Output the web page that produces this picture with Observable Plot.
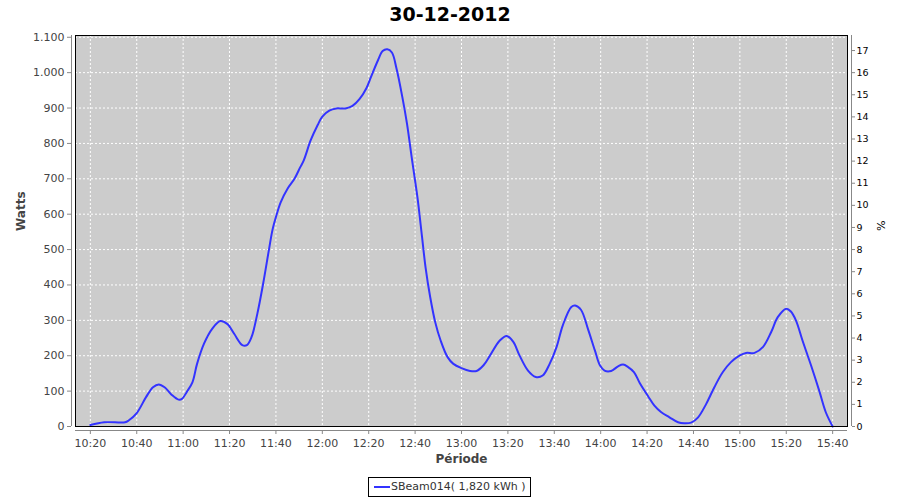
<!DOCTYPE html>
<html>
<head>
<meta charset="utf-8">
<script src="https://cdn.jsdelivr.net/npm/d3@7"></script>
<script src="https://cdn.jsdelivr.net/npm/@observablehq/plot@0.6"></script>
<style>
  body { margin: 0; background: white; }
  #wrap { position: relative; width: 900px; height: 500px; font-family: "DejaVu Sans", sans-serif; }
  #title { position: absolute; left: 0; top: 0; width: 900px; height: 28px; line-height: 28px; text-align: center; font-weight: bold; font-size: 19px; color: #000; }
  #chart { position: absolute; left: 0; top: 30px; }
  #legend { position: absolute; left: 368px; top: 477px; width: 161px; height: 18px; border: 1px solid #000; font-size: 11px; line-height: 18px; color: #333; white-space: nowrap; }
  #legend .sw { position: absolute; left: 5px; top: 8px; width: 16px; height: 2px; background: #3333ff; }
  #legend .tx { position: absolute; left: 22px; top: 0; }
</style>
</head>
<body>
<div id="wrap">
  <div id="title"></div>
  <div id="chart"></div>
  <div id="legend"><span class="sw"></span><span class="tx"></span></div>
</div>
<script>
const chartTitle = "30-12-2012";
const seriesName = "SBeam014( 1,820 kWh )";
const yLabel = "Watts";
const y2Label = "%";
const xLabel = "Période";

const times = [
  "10:20","10:26","10:35","10:36:30","10:40","10:44","10:47","10:49:30","10:52","10:55",
  "10:58","10:59:30","11:01:30","11:04","11:06","11:09","11:12:30","11:16","11:19","11:22",
  "11:25:30","11:27:30","11:29:30","11:32","11:34:30","11:37","11:38:30","11:40","11:42","11:45",
  "11:48","11:50:30","11:52","11:55","11:58","12:00","12:03","12:06","12:10","12:13",
  "12:16","12:19","12:21","12:24","12:26","12:28","12:30","12:32","12:34:30","12:36:30",
  "12:38:30","12:41","12:43","12:44:30","12:46:30","12:48:40","12:51","12:54","12:56:30","13:00",
  "13:03:40","13:06:30","13:09:30","13:12:20","13:16:30","13:19:30","13:22:20","13:25","13:28:40","13:32",
  "13:35","13:38","13:41","13:43:40","13:47:20","13:49","13:51:30","13:54:30","13:57:30","13:59:40",
  "14:01:40","14:04:30","14:07:30","14:09:40","14:11:50","14:14:20","14:16:50","14:20:30","14:23:10","14:26",
  "14:29:40","14:33:20","14:36","14:39","14:42","14:45:30","14:49","14:52:40","14:56:10","15:00",
  "15:02:40","15:06:20","15:10","15:13:30","15:16:20","15:20","15:22","15:24:10","15:27","15:30:40",
  "15:34:10","15:37","15:40"
];
const watts = [
  4,12,12,17,38,83,111,119,111,90,
  76,78,97,125,177,234,276,298,290,262,
  230,230,253,319,404,500,555,592,633,672,
  700,733,752,809,852,876,893,899,899,906,
  925,956,988,1035,1061,1066,1057,1011,931,856,
  762,648,535,450,366,295,243,196,177,165,
  157,157,173,201,243,256,239,201,158,140,
  144,177,225,286,338,342,330,276,215,173,
  158,157,170,175,168,154,123,85,59,41,
  26,12,9,11,26,64,111,154,182,201,
  208,208,225,267,309,333,325,300,243,173,
  102,41,0
];

const xTickLabels = ["10:20","10:40","11:00","11:20","11:40","12:00","12:20","12:40","13:00","13:20","13:40","14:00","14:20","14:40","15:00","15:20","15:40"];
const yTicks = [0,100,200,300,400,500,600,700,800,900,1000,1100];
const pctTicks = [0,1,2,3,4,5,6,7,8,9,10,11,12,13,14,15,16,17];
const wattsPerPercent = 62.5;

function parseT(s) {
  const p = s.split(":").map(Number);
  return new Date(Date.UTC(2012, 11, 30, p[0], p[1], p[2] || 0));
}

const data = times.map((t, i) => ({time: parseT(t), watts: watts[i]}));
const xTicks = xTickLabels.map(parseT);
const xDomain = [parseT("10:13:36"), parseT("15:46:24")];
const yDomain = [0, 1105];

const locale = d3.formatLocale({decimal: ",", thousands: ".", grouping: [3], currency: ["", "€"]});
const fmtW = locale.format(",d");
const fmtT = d3.utcFormat("%H:%M");

document.getElementById("title").textContent = chartTitle;
document.querySelector("#legend .tx").textContent = seriesName;

const plot = Plot.plot({
  width: 900,
  height: 447,
  marginLeft: 75,
  marginRight: 53,
  marginTop: 5,
  marginBottom: 51,
  style: {fontFamily: "DejaVu Sans, sans-serif", fontSize: "11px", background: "white", overflow: "visible"},
  x: {type: "utc", domain: xDomain},
  y: {domain: yDomain},
  marks: [
    Plot.frame({fill: "#cccccc", stroke: null}),
    Plot.gridX(xTicks, {stroke: "white", strokeOpacity: 1, strokeDasharray: "2,2"}),
    Plot.gridY(yTicks, {stroke: "white", strokeOpacity: 1, strokeDasharray: "2,2"}),
    Plot.line(data, {x: "time", y: "watts", stroke: "#3333ff", strokeWidth: 2, curve: "catmull-rom"}),
    Plot.frame({stroke: "#000", strokeWidth: 1}),
    // axis lines
    Plot.ruleX([xDomain[0]], {y1: yDomain[0], y2: yDomain[1], dx: -4, stroke: "#888"}),
    Plot.ruleX([xDomain[1]], {y1: yDomain[0], y2: yDomain[1], dx: 4, stroke: "#888"}),
    Plot.ruleY([0], {x1: xDomain[0], x2: xDomain[1], dy: 4, stroke: "#888"}),
    Plot.axisY(yTicks, {anchor: "left", tickFormat: fmtW, dx: -4, tickSize: 4, tickPadding: 3, label: null, color: "#444", stroke: "#888"}),
    Plot.axisY(pctTicks.map(p => p * wattsPerPercent), {anchor: "right", tickFormat: d => String(Math.round(d / wattsPerPercent)), dx: 4, tickSize: 3, tickPadding: 2, fontSize: 9.5, label: null, color: "#000", stroke: "#888"}),
    Plot.axisX(xTicks, {anchor: "bottom", tickFormat: fmtT, dy: 4, tickSize: 4, tickPadding: 5, label: null, color: "#444", stroke: "#888"}),
    Plot.text([yLabel], {frameAnchor: "left", dx: -54, rotate: -90, fontSize: 12, fontWeight: "bold", fill: "#444"}),
    Plot.text([y2Label], {frameAnchor: "right", dx: 33, rotate: 90, fontSize: 11, fill: "#000"}),
    Plot.text([xLabel], {frameAnchor: "bottom", dy: 36, fontSize: 12, fontWeight: "bold", fill: "#444"})
  ]
});
document.getElementById("chart").appendChild(plot);
</script>
</body>
</html>
